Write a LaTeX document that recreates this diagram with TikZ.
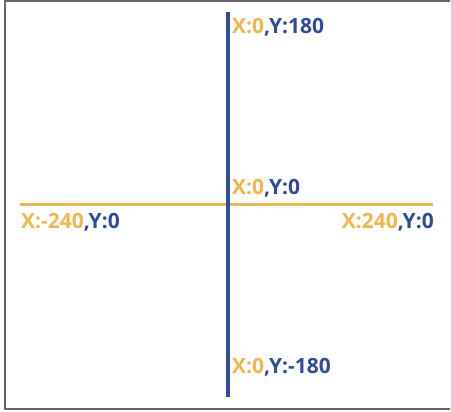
\documentclass[tikz,border=0pt]{standalone}
\usepackage{fontspec}
\setmainfont{Open Sans}
\usetikzlibrary{positioning}
\definecolor{axisorange}{HTML}{F2B54A}
\definecolor{axisblue}{HTML}{2F4C9C}
\newcommand{\xy}[2]{\textcolor{axisorange}{X:#1}\textcolor{axisblue}{,Y:#2}}

\begin{document}
\begin{tikzpicture}[x=1pt,y=1pt,
  lbl/.style={inner sep=0pt,font=\fontsize{21}{24}\selectfont\bfseries}]
\useasboundingbox (0,0) rectangle (451,412);
\draw[gray!80!black,line width=2pt] (450,411) -- (5,411) -- (5,3) -- (450,3);

% axes
\coordinate (xl) at (20,207);
\coordinate (xr) at (433,207);
\coordinate (yt) at (228,400);
\coordinate (yb) at (228,15);
\draw[axisorange,line width=3pt] (xl) -- (xr);
\draw[axisblue,line width=4pt] (yt) -- (yb);

% labels
\node[lbl,anchor=west] (top) at (232,385) {\xy{0}{180}};
\node[lbl,anchor=west] (origin) at (232,224) {\xy{0}{0}};
\node[lbl,anchor=west] (left) at (21,190) {\xy{-240}{0}};
\node[lbl,anchor=east] (right) at (434,190) {\xy{240}{0}};
\node[lbl,anchor=west] (bottom) at (232,45) {\xy{0}{-180}};
\end{tikzpicture}
\end{document}
